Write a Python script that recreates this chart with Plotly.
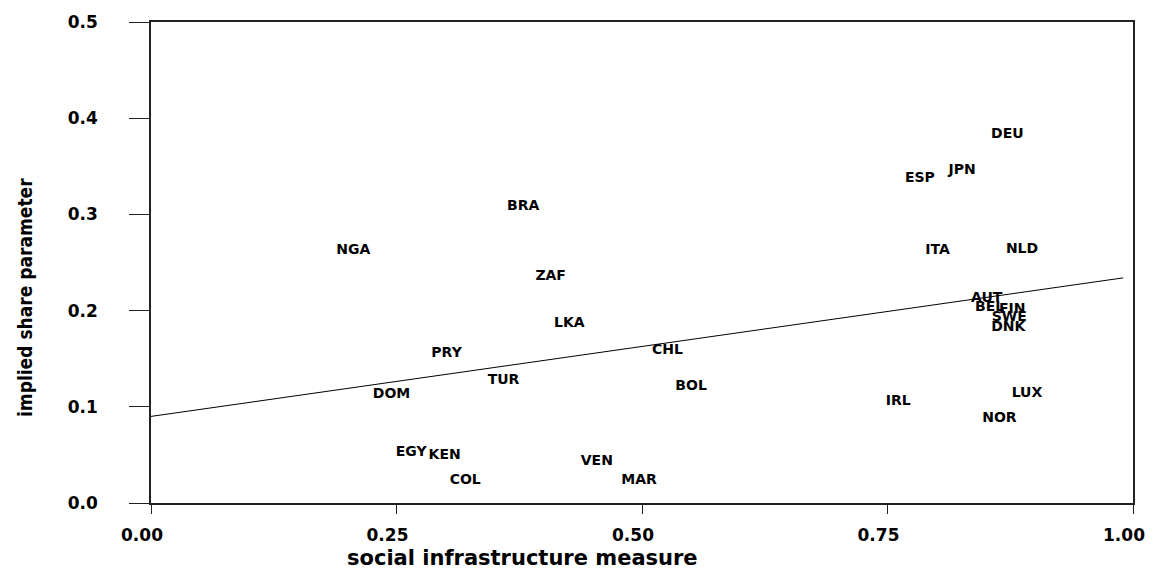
import plotly.graph_objects as go

# Country labels and their coordinates
countries = ["DEU", "JPN", "ESP", "BRA", "NGA", "ITA", "NLD", "ZAF", "AUT", "BEL",
             "FIN", "SWE", "LKA", "DNK", "CHL", "PRY", "TUR", "BOL", "DOM", "LUX",
             "IRL", "NOR", "EGY", "KEN", "VEN", "COL", "MAR"]
social_infra = [0.872, 0.826, 0.783, 0.379, 0.206, 0.801, 0.887, 0.407, 0.851, 0.854,
                0.877, 0.874, 0.426, 0.873, 0.526, 0.301, 0.359, 0.550, 0.245, 0.892,
                0.761, 0.864, 0.265, 0.299, 0.454, 0.320, 0.497]
share_param = [0.383, 0.346, 0.337, 0.308, 0.262, 0.262, 0.264, 0.235, 0.213, 0.203,
               0.201, 0.193, 0.187, 0.182, 0.159, 0.155, 0.127, 0.121, 0.113, 0.114,
               0.105, 0.088, 0.052, 0.049, 0.043, 0.023, 0.023]

# Fitted line end points
fit_x = [0.0, 0.990]
fit_y = [0.090, 0.234]

x_ticks = [0.0, 0.25, 0.5, 0.75, 1.0]
x_ticklabels = ["0.00", "0.25", "0.50", "0.75", "1.00"]
y_ticks = [0.0, 0.1, 0.2, 0.3, 0.4, 0.5]
y_ticklabels = ["0.0", "0.1", "0.2", "0.3", "0.4", "0.5"]

bold_font = "DejaVu Sans"

fig = go.Figure()
fig.add_trace(go.Scatter(
    x=fit_x, y=fit_y, mode="lines",
    line=dict(color="black", width=1), showlegend=False, hoverinfo="skip"))
fig.add_trace(go.Scatter(
    x=social_infra, y=share_param, mode="text", text=countries,
    textposition="middle center",
    textfont=dict(family=bold_font, size=14, color="black", weight="bold"),
    showlegend=False))

fig.update_layout(
    width=1145, height=562,
    margin=dict(l=143, r=20, t=14, b=67, autoexpand=False),
    plot_bgcolor="white", paper_bgcolor="white",
    xaxis=dict(
        range=[0, 1], tickvals=x_ticks, ticktext=x_ticklabels,
        showgrid=False, zeroline=False, automargin=False,
        showline=True, linecolor="#222", linewidth=1.5, mirror=True,
        ticks="outside", ticklen=9, tickwidth=1, tickcolor="#222",
        ticklabelstandoff=7, ticklabelshift=-9,
        tickfont=dict(family=bold_font, size=17, color="black", weight="bold"),
    ),
    yaxis=dict(
        range=[0, 0.5], tickvals=y_ticks, ticktext=y_ticklabels,
        showgrid=False, zeroline=False, automargin=False,
        showline=True, linecolor="#222", linewidth=1.5, mirror=True,
        ticks="outside", ticklen=20, tickwidth=1, tickcolor="#222",
        ticklabelstandoff=28,
        tickfont=dict(family=bold_font, size=17, color="black", weight="bold"),
    ),
    annotations=[
        dict(text="social infrastructure measure", xref="paper", yref="paper",
             x=(522 - 151) / 982, y=-(558 - 503) / 481, showarrow=False,
             xanchor="center", yanchor="middle",
             font=dict(family=bold_font, size=21, color="black", weight="bold")),
        dict(text="implied share parameter", xref="paper", yref="paper",
             x=-(151 - 25) / 982, y=(503 - 297) / 481, showarrow=False,
             textangle=-90, xanchor="center", yanchor="middle",
             font=dict(family="DejaVu Sans Condensed, DejaVu Sans",
                       size=19, color="black", weight="bold")),
    ],
)

fig.write_html("out.html")
